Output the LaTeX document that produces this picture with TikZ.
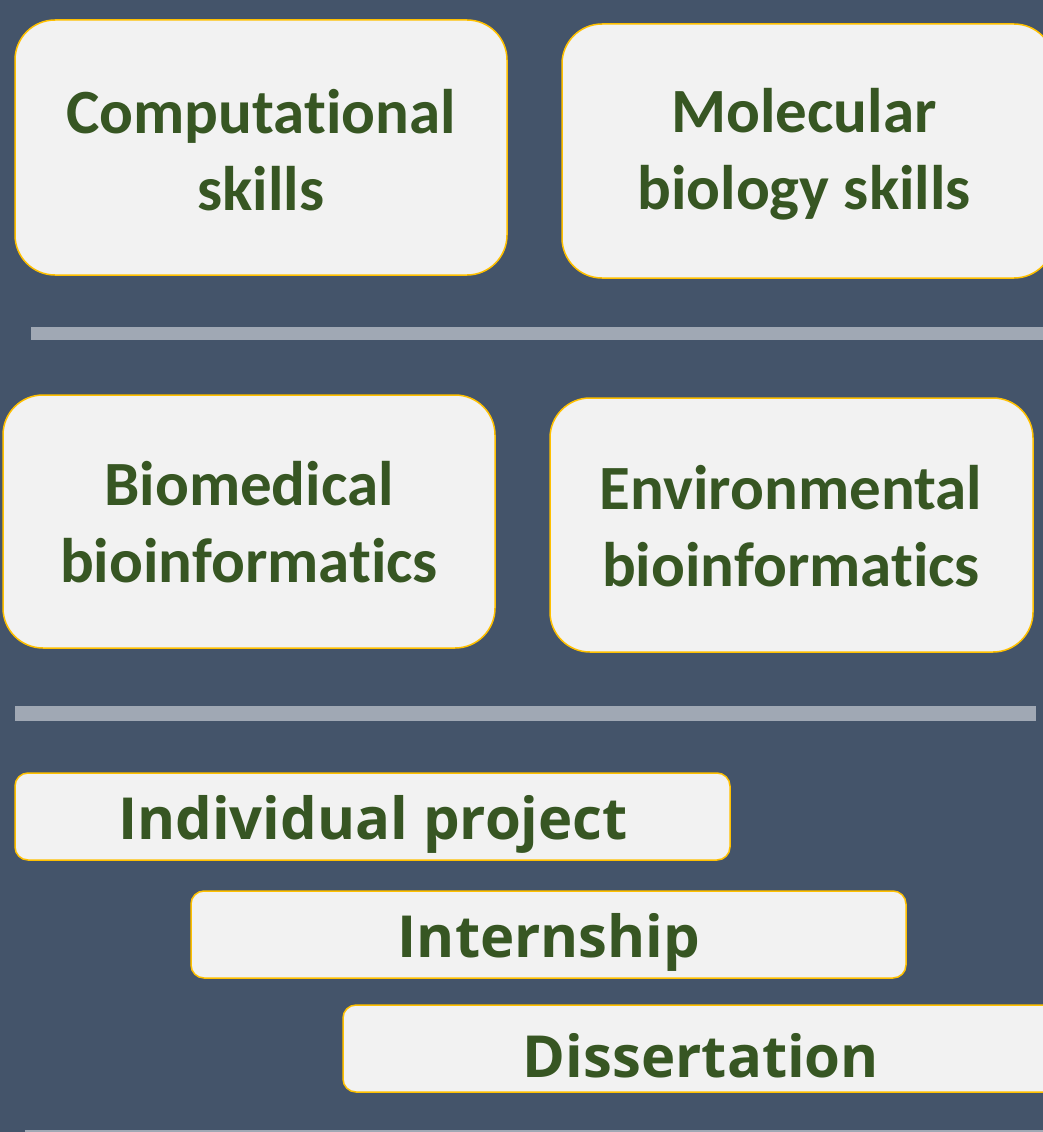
\documentclass[tikz,border=0pt]{standalone}
\usepackage{fontspec}
\newfontfamily\calib{Carlito}[BoldFont={* Bold},Ligatures=NoCommon]
\newfontfamily\opsans{Open Sans}
\definecolor{bgc}{HTML}{44546A}
\definecolor{boxfill}{HTML}{F2F2F2}
\definecolor{boxedge}{HTML}{FFC000}
\definecolor{txtc}{HTML}{375623}
\definecolor{sepc}{HTML}{A0A8B4}
\begin{document}
\begin{tikzpicture}[x=1pt,y=-1pt,
  bigbox/.style={draw=boxedge,fill=boxfill,line width=1.5pt,rounded corners=40pt},
  barbox/.style={draw=boxedge,fill=boxfill,line width=1.5pt,rounded corners=13pt},
  bigtext/.style={text=txtc,align=center,font=\calib\bfseries\fontsize{63}{77}\selectfont,inner sep=0pt},
  bartext/.style={text=txtc,font=\opsans\bfseries\fontsize{58}{68}\selectfont,inner sep=0pt},
  sepline/.style={fill=sepc,draw=none}]
\fill[bgc] (0,0) rectangle (1043,1132);
\useasboundingbox (0,0) rectangle (1043,1132);
% top row
\draw[bigbox] (15,20) rectangle (507,275);
\node[bigtext] (comp) at (261,150) {Computational\\skills};
\draw[bigbox] (562,24) rectangle (1054,278);
\node[bigtext] (mol) at (804,154) {Molecular\\biology skills};
% separator 1
\fill[sepline] (31,327) rectangle (1043,340);
% middle row
\draw[bigbox] (3,395) rectangle (495,648);
\node[bigtext] (biomed) at (249,522) {Biomedical\\bioinformatics};
\draw[bigbox] (550,398) rectangle (1033,652);
\node[bigtext] (env) at (791,526) {Environmental\\bioinformatics};
% separator 2
\fill[sepline] (15,706) rectangle (1036,721);
% bars
\draw[barbox] (15,773) rectangle (730,860);
\node[bartext] (proj) at (373,824) {Individual project};
\draw[barbox] (191,891) rectangle (906,978);
\node[bartext] (intern) at (549,942) {Internship};
\draw[barbox] (343,1005) rectangle (1058,1092);
\node[bartext] (diss) at (701,1056) {Dissertation};
% bottom separator
\fill[sepline] (25,1130) rectangle (1043,1136);
\end{tikzpicture}
\end{document}
